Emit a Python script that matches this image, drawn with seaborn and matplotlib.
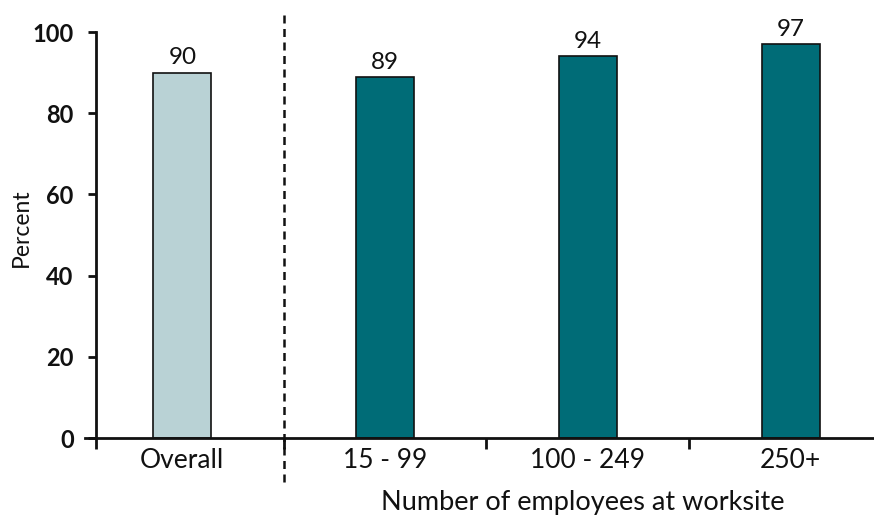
import matplotlib
matplotlib.use("Agg")
import matplotlib.pyplot as plt
import matplotlib.transforms as mtransforms
import seaborn as sns
import pandas as pd

# Share of worksites, by worksite size
categories = ["Overall", "15 - 99", "100 - 249", "250+"]
percent = [90, 89, 94, 97]
groups = ["overall", "size", "size", "size"]
y_ticks = [0, 20, 40, 60, 80, 100]

df = pd.DataFrame({"category": categories, "percent": percent, "group": groups})

sns.set_theme(style="white")
plt.rcParams["font.family"] = ["Lato", "DejaVu Sans"]

fig = plt.figure(figsize=(8.74, 5.17), dpi=100)
ax = fig.add_axes([0.1098, 0.1528, 0.8892, 0.7852])

sns.barplot(
    data=df, x="category", y="percent", hue="group",
    palette={"overall": "#b9d2d5", "size": "#006c77"}, saturation=1,
    width=0.286, edgecolor="#111111", linewidth=1.2,
    legend=False, ax=ax, order=categories,
)

for cont in ax.containers:
    ax.bar_label(cont, labels=[f"{v:.0f}" for v in cont.datavalues],
                 padding=3, fontsize=17.5, color="#111111")

ax.set_ylim(0, 100)
ax.set_xlim(-0.426, 3.407)
ax.set_yticks(y_ticks)
ax.set_yticklabels([str(t) for t in y_ticks], fontsize=17, fontweight="bold")
ax.tick_params(axis="y", which="major", length=6, width=2, pad=10, left=True,
               colors="#111111")
ax.tick_params(axis="x", which="major", length=0, pad=7, labelsize=19,
               colors="#111111")
ax.set_xticks(range(len(categories)))
ax.set_xticklabels(categories)
ax.set_xticks([-0.426, 0.5, 1.5, 2.5], minor=True)
ax.tick_params(axis="x", which="minor", length=8, width=2, bottom=True,
               direction="out", color="#111111")

for side in ["top", "right"]:
    ax.spines[side].set_visible(False)
for side in ["left", "bottom"]:
    ax.spines[side].set_linewidth(2)
    ax.spines[side].set_color("#111111")
# extend the baseline slightly past the y axis
ax.spines["bottom"].set_bounds(-0.48, 3.407)

ax.set_ylabel("Percent", fontsize=16.5, color="#111111")
ax.yaxis.set_label_coords(-0.083, 0.517)
ax.set_xlabel("Number of employees at worksite", fontsize=19.5, color="#111111")
ax.xaxis.set_label_coords(0.627, -0.128)

# divider between the overall bar and the size groups
trans = mtransforms.blended_transform_factory(ax.transData, ax.transAxes)
ax.plot([0.5, 0.5], [-0.108, 1.044], transform=trans, clip_on=False,
        color="#111111", linewidth=1.8, linestyle=(0, (3.2, 2.2)))

fig.savefig("out.png", dpi=100)
